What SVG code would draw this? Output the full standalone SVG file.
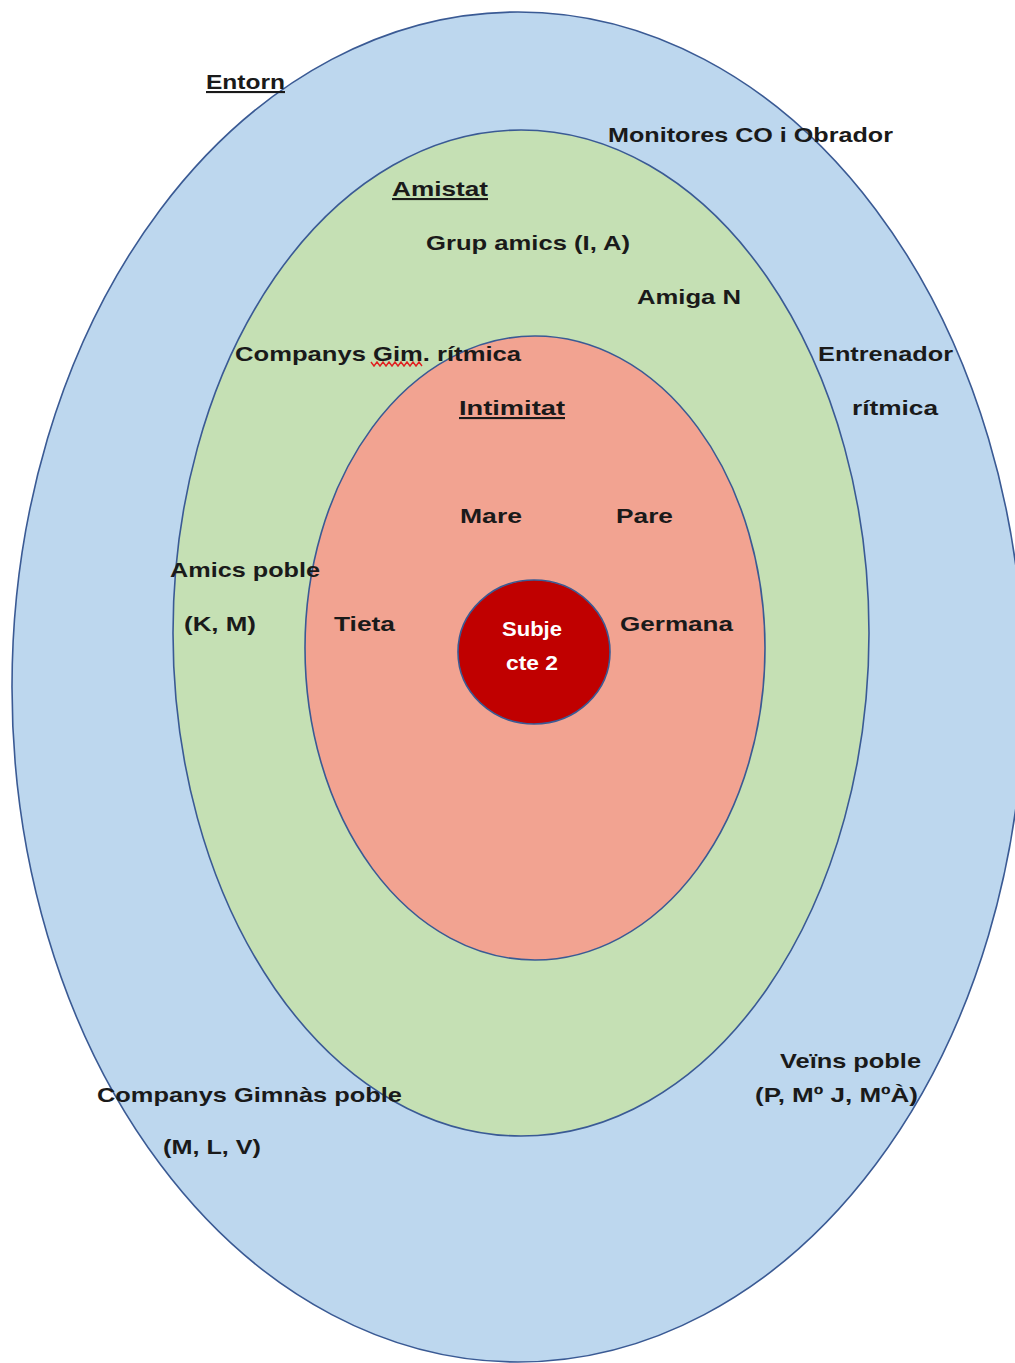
<svg xmlns="http://www.w3.org/2000/svg" width="1015" height="1363" viewBox="0 0 1015 1363">
<style>
.ring{stroke:#3A5A94;stroke-width:1.6}
.t{font-family:"Liberation Sans",Arial,sans-serif;font-weight:bold;font-size:21px;fill:#1a1a1a}
.u{text-decoration:underline}
.w{font-family:"Liberation Sans",Arial,sans-serif;font-weight:bold;font-size:20px;fill:#ffffff}
</style>
<rect width="1015" height="1363" fill="#ffffff"/>
<g id="entorn-ring"><ellipse class="ring" cx="518" cy="687" rx="506" ry="675" fill="#BDD7EE"/></g>
<g id="amistat-ring"><ellipse class="ring" cx="521" cy="633" rx="348" ry="503" fill="#C5E0B4"/></g>
<g id="intimitat-ring"><ellipse class="ring" cx="535" cy="648" rx="230" ry="312" fill="#F2A391"/></g>
<g id="subjecte">
<ellipse class="ring" cx="534" cy="652" rx="76" ry="72" fill="#C00000"/>
<text class="w" x="532" y="636" text-anchor="middle" textLength="60" lengthAdjust="spacingAndGlyphs">Subje</text>
<text class="w" x="532" y="670" text-anchor="middle" textLength="52" lengthAdjust="spacingAndGlyphs">cte 2</text>
</g>
<g id="entorn-labels">
<text class="t u" x="206" y="89" textLength="79" lengthAdjust="spacingAndGlyphs">Entorn</text>
<text class="t" x="608" y="142" textLength="285" lengthAdjust="spacingAndGlyphs">Monitores CO i Obrador</text>
<text class="t" x="818" y="361" textLength="135" lengthAdjust="spacingAndGlyphs">Entrenador</text>
<text class="t" x="852" y="415" textLength="86" lengthAdjust="spacingAndGlyphs">rítmica</text>
<text class="t" x="780" y="1068" textLength="141" lengthAdjust="spacingAndGlyphs">Veïns poble</text>
<text class="t" x="755" y="1102" textLength="163" lengthAdjust="spacingAndGlyphs">(P, Mº J, MºÀ)</text>
<text class="t" x="97" y="1102" textLength="305" lengthAdjust="spacingAndGlyphs">Companys Gimnàs poble</text>
<text class="t" x="163" y="1154" textLength="98" lengthAdjust="spacingAndGlyphs">(M, L, V)</text>
</g>
<g id="amistat-labels">
<text class="t u" x="392" y="196" textLength="96" lengthAdjust="spacingAndGlyphs">Amistat</text>
<text class="t" x="426" y="250" textLength="204" lengthAdjust="spacingAndGlyphs">Grup amics (I, A)</text>
<text class="t" x="637" y="304" textLength="104" lengthAdjust="spacingAndGlyphs">Amiga N</text>
<text class="t" x="170" y="577" textLength="150" lengthAdjust="spacingAndGlyphs">Amics poble</text>
<text class="t" x="184" y="631" textLength="72" lengthAdjust="spacingAndGlyphs">(K, M)</text>
<text class="t" x="235" y="361" textLength="286" lengthAdjust="spacingAndGlyphs">Companys Gim. rítmica</text>
<path d="M371 362 l3 4 l3 -4 l3 4 l3 -4 l3 4 l3 -4 l3 4 l3 -4 l3 4 l3 -4 l3 4 l3 -4 l3 4 l3 -4 l3 4 l3 -4 l3 4" fill="none" stroke="#E02020" stroke-width="1.4"/>
</g>
<g id="intimitat-labels">
<text class="t u" x="459" y="415" textLength="106" lengthAdjust="spacingAndGlyphs">Intimitat</text>
<text class="t" x="460" y="523" textLength="62" lengthAdjust="spacingAndGlyphs">Mare</text>
<text class="t" x="616" y="523" textLength="57" lengthAdjust="spacingAndGlyphs">Pare</text>
<text class="t" x="334" y="631" textLength="61" lengthAdjust="spacingAndGlyphs">Tieta</text>
<text class="t" x="620" y="631" textLength="113" lengthAdjust="spacingAndGlyphs">Germana</text>
</g>
<g id="connectors"/>
</svg>
